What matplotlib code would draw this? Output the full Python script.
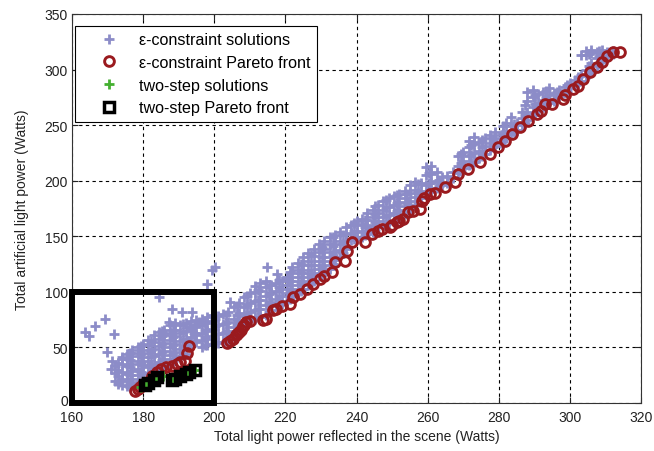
import matplotlib
matplotlib.use("Agg")
import matplotlib.pyplot as plt
import matplotlib.transforms as mtransforms
from matplotlib.patches import Rectangle

plt.rcParams['font.family'] = ['Liberation Sans', 'DejaVu Sans']
plt.rcParams['font.size'] = 10

# epsilon-constraint solutions: (reflected power, artificial power values) per column
eps_cols = [
    (172.0, [20, 27, 33]),
    (173.0, [17, 24, 30, 36]),
    (174.0, [16, 22, 28, 35, 41]),
    (175.5, [15, 20, 26, 33, 40, 44]),
    (176.3, [18, 25, 32, 39, 45]),
    (177.0, [16, 22, 29, 35, 42, 48]),
    (178.5, [19, 25, 31, 38, 45, 50]),
    (179.3, [20, 28, 36, 44, 51]),
    (180.0, [21, 27, 34, 41, 48, 53]),
    (181.5, [26, 32, 38, 45, 52, 57]),
    (182.3, [27, 34, 41, 48, 56]),
    (183.0, [29, 35, 42, 49, 55, 61]),
    (184.5, [31, 37, 44, 51, 58, 64]),
    (185.3, [32, 39, 46, 53, 60, 65]),
    (186.0, [33, 40, 47, 54, 61, 66]),
    (187.5, [36, 43, 50, 57, 63, 70]),
    (188.3, [38, 45, 52, 59, 66]),
    (189.0, [40, 46, 53, 60, 66, 72]),
    (190.5, [42, 49, 56, 63, 70]),
    (191.3, [43, 50, 57, 64, 71]),
    (192.0, [44, 51, 58, 65, 72]),
    (193.5, [53, 59, 66, 74]),
    (194.3, [56, 63, 70]),
    (195.0, [55, 61, 68, 75]),
    (196.5, [50, 57, 63, 70, 76]),
    (197.3, [52, 59, 66, 73]),
    (198.0, [52, 58, 65, 72, 77]),
    (199.5, [53, 60, 67, 74, 79]),
    (200.3, [55, 62, 69, 76]),
    (201.0, [54, 62, 70, 78]),
    (202.5, [55, 63, 71, 80]),
    (203.3, [56, 64, 72, 79]),
    (204.0, [57, 65, 73, 82]),
    (205.5, [60, 68, 76, 86]),
    (206.3, [63, 71, 79, 87]),
    (207.0, [65, 73, 81, 90]),
    (208.5, [70, 78, 86, 95]),
    (209.3, [72, 80, 88, 96]),
    (210.0, [74, 82, 90, 99]),
    (211.5, [76, 84, 92, 100, 105]),
    (212.3, [77, 85, 93, 102]),
    (213.0, [77, 85, 93, 101, 108]),
    (214.5, [79, 88, 96, 104, 110]),
    (215.3, [82, 90, 98, 106]),
    (216.0, [84, 91, 99, 106]),
    (217.5, [87, 94, 101, 108]),
    (218.3, [88, 96, 104, 111]),
    (219.0, [89, 96, 103, 110]),
    (220.5, [92, 99, 106, 113]),
    (221.3, [94, 102, 110, 118]),
    (222.0, [96, 103, 110, 117, 122]),
    (223.5, [99, 106, 113, 120, 126]),
    (224.3, [101, 109, 117, 125]),
    (225.0, [103, 110, 117, 124, 131]),
    (226.5, [106, 113, 120, 128, 135]),
    (227.3, [108, 116, 124, 133]),
    (228.0, [110, 117, 124, 132, 139]),
    (229.5, [114, 121, 128, 136, 143]),
    (230.3, [115, 123, 131, 140]),
    (231.0, [117, 124, 131, 139, 146]),
    (232.5, [121, 128, 136, 143, 149]),
    (233.3, [125, 133, 141, 149]),
    (234.0, [129, 136, 143, 151]),
    (235.5, [131, 138, 146, 154]),
    (236.3, [135, 143, 151]),
    (237.0, [139, 146, 152, 158]),
    (238.5, [147, 153, 160]),
    (239.3, [148, 155, 162]),
    (240.0, [148, 154, 160, 164]),
    (241.5, [149, 155, 161, 166]),
    (242.3, [151, 158, 165]),
    (243.0, [152, 158, 165, 171]),
    (244.5, [154, 160, 167, 174]),
    (245.3, [156, 163, 170, 177]),
    (246.0, [158, 164, 171, 178]),
    (247.5, [160, 167, 174, 182]),
    (248.3, [161, 168, 176, 183]),
    (249.0, [162, 169, 176, 184]),
    (250.5, [164, 171, 178, 186]),
    (251.3, [166, 173, 180, 187]),
    (252.0, [167, 174, 181, 188]),
    (253.5, [170, 177, 184, 191]),
    (254.3, [172, 180, 188]),
    (255.0, [175, 182, 189, 196]),
    (256.5, [178, 185, 192, 199]),
    (257.3, [181, 189, 197]),
    (258.0, [184, 191, 198]),
    (259.5, [189, 196, 205, 212]),
    (260.3, [190, 198, 207]),
    (261.0, [191, 198, 206, 213]),
    (262.5, [193, 200, 208]),
    (263.3, [195, 201]),
    (264.0, [196, 203]),
    (265.5, [198, 204]),
    (267.0, [202, 208]),
    (268.5, [207, 213, 222]),
    (269.3, [209, 216, 224]),
    (270.0, [211, 218, 226]),
    (271.5, [214, 222, 230, 236]),
    (272.3, [215, 223, 232]),
    (273.0, [217, 225, 233, 239]),
    (274.5, [220, 227, 235]),
    (275.3, [222, 230, 237]),
    (276.0, [224, 231, 238]),
    (277.5, [228, 234, 241]),
    (278.3, [230, 237]),
    (279.0, [231, 238, 244]),
    (280.5, [234, 241]),
    (281.3, [236, 243, 249]),
    (282.0, [238, 245, 252]),
    (283.5, [242, 249, 257]),
    (284.3, [244, 251]),
    (285.0, [246, 252]),
    (286.5, [250, 256, 262]),
    (287.3, [252, 259, 268]),
    (288.0, [255, 262, 272, 280]),
    (289.5, [259, 266, 275, 282]),
    (290.3, [261, 269, 277]),
    (291.0, [263, 270, 278]),
    (292.5, [266, 273, 280]),
    (293.3, [268, 275, 281]),
    (294.0, [270, 277, 283]),
    (295.5, [272, 279]),
    (296.3, [274, 280]),
    (297.0, [276, 282]),
    (298.5, [279, 284]),
    (299.3, [281, 286]),
    (300.0, [283, 288]),
    (301.5, [286, 291]),
    (302.3, [288, 293]),
    (303.0, [290, 295, 313]),
    (304.5, [294, 300, 313, 317]),
    (305.3, [296, 303, 314]),
    (306.0, [298, 306, 315, 318]),
    (307.5, [303, 310, 316]),
    (308.3, [305, 312, 317]),
    (309.0, [307, 313, 318]),
    (310.5, [311, 316]),
    (312.0, [314, 317]),
]

# isolated epsilon-constraint solutions away from the main band
eps_scatter_x = [163.7, 166.5, 169.3, 171.8, 164.8, 169.8, 171.2, 171.0, 174.0,
                 184.5, 188.0, 191.0, 193.7, 187.3, 193.0, 195.7, 199.4, 198.0,
                 200.2, 204.4, 214.8, 217.6, 220.7, 176.3, 173.2]
eps_scatter_y = [64, 69, 75.6, 62, 60, 46, 38, 31, 40,
                 95, 84.6, 82, 82, 73, 68, 73, 120, 107,
                 122, 91, 122, 116, 111.6, 14, 19]

# epsilon-constraint Pareto front
front_x = [177.7, 178.5, 179.0, 180.0, 181.0, 182.5, 184.0, 185.0, 186.5, 188.0,
           189.5, 190.4, 191.8, 192.3, 193.0,
           203.6, 204.5, 205.3, 206.0, 206.5, 207.0, 207.5, 208.0, 208.5, 209.0,
           210.0, 213.7, 214.5, 216.5, 217.5, 219.0, 221.3, 222.2, 224.0, 226.0,
           227.8, 229.7, 231.0, 233.0, 234.0, 236.8, 237.3, 238.7, 242.4, 244.4,
           246.0, 247.2, 249.4, 250.0, 251.4, 252.0, 253.0, 254.5, 256.0, 257.9,
           258.4, 259.0, 260.7, 262.0, 264.9, 267.7, 268.6, 271.4, 274.7, 277.5,
           279.8, 281.8, 283.7, 286.0, 288.2, 290.8, 292.0, 293.0, 295.0, 298.0,
           298.6, 301.0, 302.3, 303.7, 305.7, 307.6, 309.0, 310.4, 312.0, 314.0]
front_y = [11, 13, 14, 17, 19, 24, 28, 31, 32, 33,
           35, 37, 38, 45, 51,
           54, 56, 58, 61, 62, 64, 66, 69, 70, 73,
           74, 75, 76, 84, 85, 87, 89, 95, 98, 103,
           107, 111.6, 114, 118, 127, 128, 137, 145, 145, 152,
           155, 156.6, 158, 160, 163, 164, 165.6, 172, 173, 174.6,
           182, 184, 188, 189, 194, 199, 206, 210.6, 217, 224,
           230, 236, 242, 248, 254, 260, 263, 269, 269, 273.6,
           277, 282.6, 285, 291.6, 298, 302, 307, 312, 316, 316]

# two-step solutions and Pareto front
two_sol_x = [179.5, 180.5, 181.5, 183.0, 184.0, 185.5, 188.0, 189.0, 190.0, 191.0,
             192.0, 193.0, 194.5]
two_sol_y = [14, 16, 18, 20, 22, 24, 21, 22, 23, 25, 26, 28, 30]
two_front_x = [180.5, 181.5, 183.0, 184.0, 188.0, 189.0, 190.5, 192.0, 193.0, 194.5]
two_front_y = [16, 18, 21, 23, 21, 22, 24, 26, 28, 30]

eps_x = [x for x, ys in eps_cols for _ in ys] + eps_scatter_x
eps_y = [y for _, ys in eps_cols for y in ys] + eps_scatter_y

fig = plt.figure(figsize=(6.54, 4.52), dpi=100)
ax = fig.add_axes([72 / 654, 1 - 404 / 452, (641 - 72) / 654, (404 - 15) / 452])

purple = '#8c8cc8'
red = '#9a1a1e'
green = '#44b030'

ax.plot(eps_x, eps_y, linestyle='none', marker='+', ms=7, mew=2,
        color=purple, label='\u03b5-constraint solutions', zorder=3)
ax.plot(front_x, front_y, linestyle='none', marker='o', ms=7, mew=2.1,
        mfc='none', mec=red, label='\u03b5-constraint Pareto front', zorder=4)
ax.plot(two_sol_x, two_sol_y, linestyle='none', marker='+', ms=7, mew=2,
        color=green, label='two-step solutions', zorder=5)
ax.plot(two_front_x, two_front_y, linestyle='none', marker='s', ms=7.5, mew=2.5,
        mfc='none', mec='black', label='two-step Pareto front', zorder=6)

# highlight of the low-power region
ax.add_patch(Rectangle((160, 0), 40, 100, fill=False, lw=4.3, ec='black',
                       clip_on=False, zorder=10))

ax.set_xlim(160, 320)
ax.set_ylim(0, 350)
ax.set_xticks(range(160, 321, 20))
ax.set_yticks(range(0, 351, 50))
ax.set_axisbelow(True)
ax.grid(True, color='black', linestyle=(0, (3, 3)), linewidth=0.8)
ax.tick_params(direction='in', length=4, top=True, right=True, pad=3,
               labelsize=10, colors='#222222')
ax.tick_params(axis='x', pad=5)
for s in ax.spines.values():
    s.set_linewidth(0.8)
    s.set_color('#333333')

# lift the "0" label a little so it clears the first x tick label
fig.canvas.draw()
zero_label = ax.get_yticklabels()[0]
zero_label.set_transform(zero_label.get_transform() +
                         mtransforms.ScaledTranslation(0, 3 / 100, fig.dpi_scale_trans))

ax.set_xlabel('Total light power reflected in the scene (Watts)', fontsize=10,
              color='#222222', labelpad=4)
ax.set_ylabel('Total artificial light power (Watts)', fontsize=10,
              color='#222222', labelpad=11)

leg = ax.legend(loc='upper left', bbox_to_anchor=(75 / 654, 1 - 27 / 452),
                bbox_transform=fig.transFigure, borderaxespad=0, fancybox=False,
                framealpha=1, edgecolor='black', handlelength=3.4,
                handletextpad=0.2, borderpad=0.4, labelspacing=0.47,
                numpoints=1, prop={'size': 11.6})
leg.get_frame().set_linewidth(0.8)
leg.set_zorder(20)

fig.savefig('out.png', dpi=100)
